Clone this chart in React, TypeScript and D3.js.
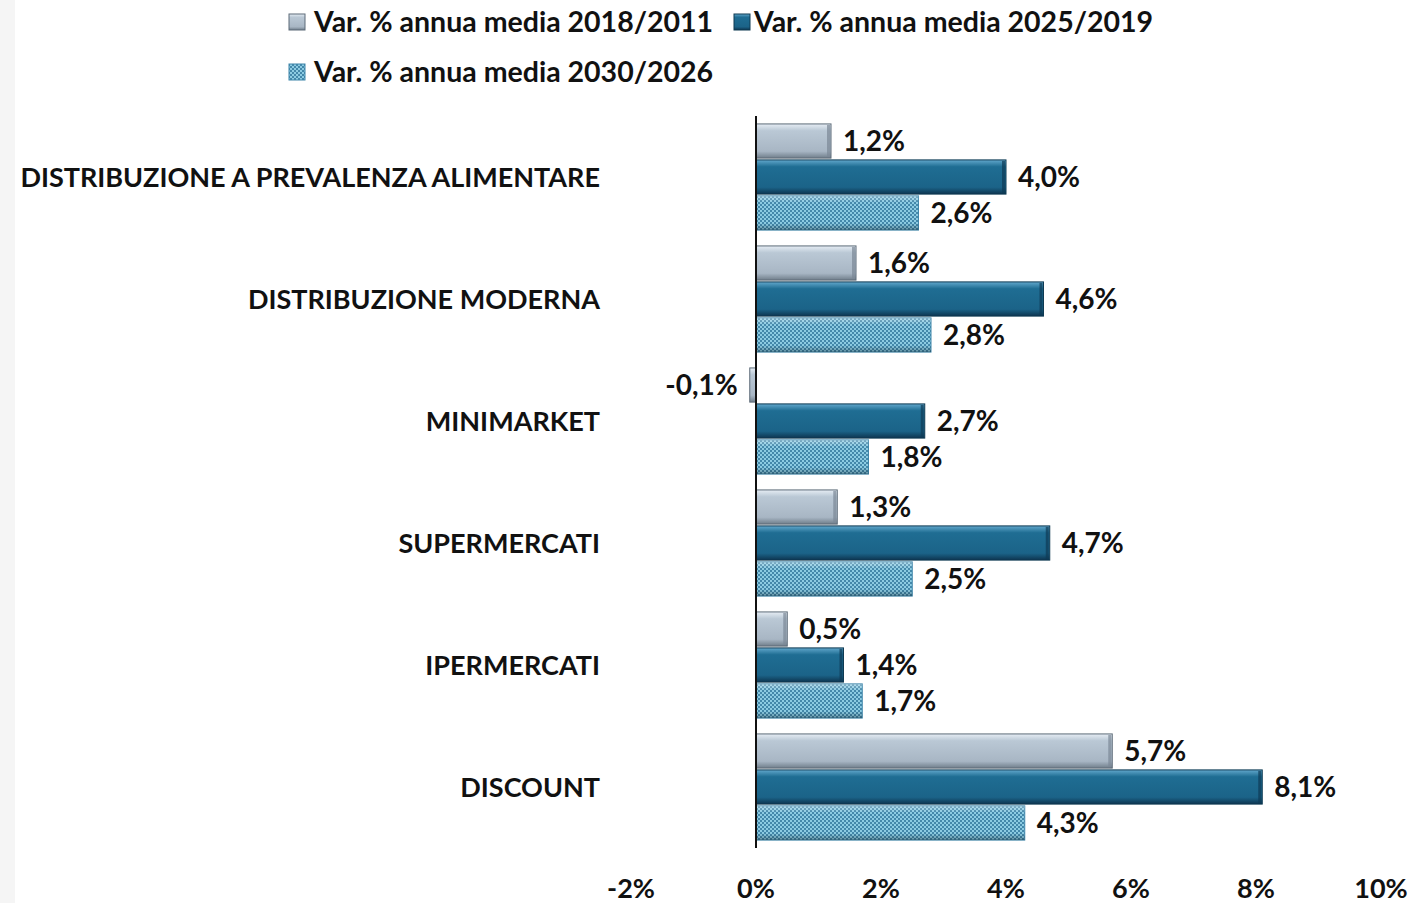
import React from "react";
import * as d3 from "d3";

const categories = [
  "DISTRIBUZIONE A PREVALENZA ALIMENTARE",
  "DISTRIBUZIONE MODERNA",
  "MINIMARKET",
  "SUPERMERCATI",
  "IPERMERCATI",
  "DISCOUNT",
];
const seriesNames = [
  "Var. % annua media 2018/2011",
  "Var. % annua media 2025/2019",
  "Var. % annua media 2030/2026",
];
const s2018 = [1.2, 1.6, -0.1, 1.3, 0.5, 5.7];
const s2025 = [4.0, 4.6, 2.7, 4.7, 1.4, 8.1];
const s2030 = [2.6, 2.8, 1.8, 2.5, 1.7, 4.3];
const xTicks = [-2, 0, 2, 4, 6, 8, 10];

const W = 1423;
const H = 903;
const FONT = "Lato, 'Open Sans', sans-serif";

export default function App() {
  const x = d3.scaleLinear().domain([-2, 10]).range([631, 1381]);
  const y = d3.scaleBand<string>().domain(categories).range([116, 848]).paddingInner(0.13).paddingOuter(0.065);
  const sub = d3.scaleBand<number>().domain([0, 1, 2]).range([0, y.bandwidth()]).paddingInner(0.05);
  const all = [s2018, s2025, s2030];
  const fills = ["url(#gGrey)", "url(#gBlue)", "url(#pHatch)"];
  const strokes = ["#5d6b78", "#0f3a52", "#3f86aa"];
  const fmt = (v: number) => v.toFixed(1).replace(".", ",") + "%";

  return (
    <svg width={W} height={H} style={{ position: "absolute", left: 0, top: 0, background: "#fff" }}>
      <defs>
        <linearGradient id="gGrey" x1="0" y1="0" x2="0" y2="1">
          <stop offset="0" stopColor="#e6edf4" />
          <stop offset="0.2" stopColor="#bac8d5" />
          <stop offset="0.8" stopColor="#a8b6c4" />
          <stop offset="1" stopColor="#6f7d8a" />
        </linearGradient>
        <linearGradient id="gBlue" x1="0" y1="0" x2="0" y2="1">
          <stop offset="0" stopColor="#62a8cc" />
          <stop offset="0.2" stopColor="#1f6d93" />
          <stop offset="0.8" stopColor="#1b6388" />
          <stop offset="1" stopColor="#0d3550" />
        </linearGradient>
        <linearGradient id="gShade" x1="0" y1="0" x2="0" y2="1">
          <stop offset="0" stopColor="#ffffff" stopOpacity={0.35} />
          <stop offset="0.2" stopColor="#ffffff" stopOpacity={0} />
          <stop offset="0.8" stopColor="#000000" stopOpacity={0} />
          <stop offset="1" stopColor="#000000" stopOpacity={0.3} />
        </linearGradient>
        <pattern id="pHatch" width="4" height="4" patternUnits="userSpaceOnUse">
          <rect width="4" height="4" fill="#8ccbe2" />
          <circle cx="1" cy="1" r="1" fill="#2b7298" />
          <circle cx="3" cy="3" r="1" fill="#2b7298" />
        </pattern>
      </defs>

      <rect x={0} y={0} width={15} height={H} fill="#f5f5f5" />

      {/* legend */}
      <g fontFamily={FONT} fontWeight={700} fontSize={28.5} fill="#111">
        <rect x={289} y={14} width={16} height={16} fill="url(#gGrey)" stroke="#5d6b78" />
        <text x={314} y={32}>{seriesNames[0]}</text>
        <rect x={734} y={14} width={16} height={16} fill="url(#gBlue)" stroke="#0f3a52" />
        <text x={754} y={32}>{seriesNames[1]}</text>
        <rect x={289} y={64} width={16} height={16} fill="url(#pHatch)" stroke="#3f86aa" />
        <text x={314} y={82}>{seriesNames[2]}</text>
      </g>

      {/* bars */}
      {categories.map((c, i) => (
        <g key={c}>
          {all.map((s, k) => {
            const v = s[i];
            const x0 = x(Math.min(0, v));
            const x1 = x(Math.max(0, v));
            const yy = (y(c) as number) + (sub(k) as number);
            const h = sub.bandwidth();
            const w = Math.max(1, x1 - x0);
            return (
              <g key={k}>
                <rect x={x0} y={yy} width={w} height={h} fill={fills[k]} stroke={strokes[k]} strokeWidth={1} />
                {k === 2 && <rect x={x0} y={yy} width={w} height={h} fill="url(#gShade)" />}
                {k < 2 && w > 8 && (
                  <rect x={x1 - 4} y={yy + 1} width={3} height={h - 2} fill={k === 0 ? "#7b8895" : "#0e3a55"} opacity={0.7} />
                )}
                <text
                  x={v >= 0 ? x1 + 12 : x0 - 12}
                  y={yy + h / 2}
                  dy="0.36em"
                  textAnchor={v >= 0 ? "start" : "end"}
                  fontFamily={FONT}
                  fontWeight={700}
                  fontSize={28}
                  fill="#111"
                >
                  {fmt(v)}
                </text>
              </g>
            );
          })}
          <text
            x={600}
            y={(y(c) as number) + y.bandwidth() / 2}
            dy="0.36em"
            textAnchor="end"
            fontFamily={FONT}
            fontWeight={700}
            fontSize={27}
            fill="#111"
          >
            {c}
          </text>
        </g>
      ))}

      {/* axis */}
      <line x1={x(0)} x2={x(0)} y1={116} y2={848} stroke="#111" strokeWidth={2} />
      {xTicks.map((t) => (
        <text key={t} x={x(t)} y={898} textAnchor="middle" fontFamily={FONT} fontWeight={700} fontSize={27} fill="#111">
          {t + "%"}
        </text>
      ))}
    </svg>
  );
}
